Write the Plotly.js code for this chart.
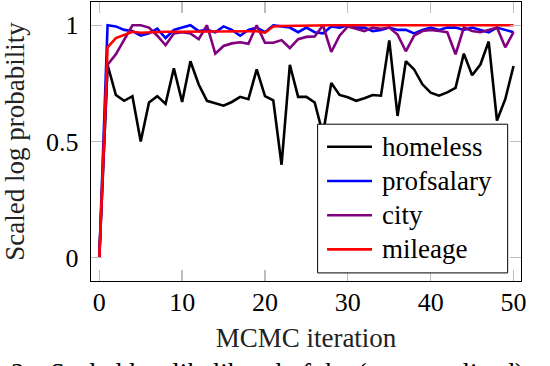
<!DOCTYPE html>
<html>
<head>
<meta charset="utf-8">
<script src="https://cdn.plot.ly/plotly-3.0.1.min.js"></script>
<style>
  body { margin: 0; background: #fff; }
  #chart { width: 550px; height: 366px; }
</style>
</head>
<body>
<div id="chart"></div>
<script>
// MCMC iterations 0..50
const iterations = Array.from({ length: 51 }, (_, i) => i);

const homeless = [0, 0.83, 0.70, 0.675, 0.695, 0.50, 0.668, 0.695, 0.662, 0.815,
  0.67, 0.845, 0.745, 0.675, 0.665, 0.654, 0.67, 0.692, 0.682, 0.81,
  0.695, 0.677, 0.40, 0.83, 0.692, 0.692, 0.668, 0.53, 0.752, 0.70,
  0.69, 0.675, 0.686, 0.70, 0.697, 0.935, 0.61, 0.845, 0.81, 0.746,
  0.71, 0.697, 0.711, 0.731, 0.878, 0.785, 0.831, 0.93, 0.59, 0.682, 0.825];

const profsalary = [0, 1.0, 0.995, 0.98, 0.975, 0.955, 0.965, 0.985, 0.945, 0.98,
  0.99, 1.0, 0.975, 0.98, 0.97, 0.995, 0.98, 0.955, 0.98, 0.99,
  0.97, 1.0, 0.995, 0.99, 0.97, 0.99, 0.97, 0.965, 0.995, 0.99,
  1.0, 0.99, 0.99, 0.975, 0.98, 0.99, 0.98, 0.98, 0.965, 0.98,
  0.99, 0.98, 0.99, 0.99, 0.98, 0.99, 0.98, 0.97, 0.99, 0.98, 0.97];

const city = [0, 0.83, 0.875, 0.935, 1.0, 1.0, 0.99, 0.955, 0.914, 0.965,
  0.97, 0.965, 0.94, 1.0, 0.878, 0.911, 0.922, 0.927, 0.92, 1.0,
  0.925, 0.925, 0.936, 0.902, 0.94, 0.95, 0.952, 1.0, 0.885, 0.955,
  0.995, 0.985, 0.975, 0.99, 0.985, 0.99, 0.96, 0.888, 0.955, 0.975,
  0.98, 0.975, 0.97, 0.875, 0.99, 0.975, 0.97, 0.98, 0.99, 0.905, 0.97];

const mileage = [0, 0.905, 0.945, 0.958, 0.972, 0.968, 0.97, 0.972, 0.972, 0.972,
  0.972, 0.972, 0.972, 0.972, 0.972, 0.972, 0.972, 0.972, 0.972, 0.974,
  0.968, 0.995, 0.997, 0.998, 0.998, 0.998, 0.998, 1.0, 1.0, 1.0,
  1.0, 1.0, 1.0, 1.0, 1.0, 1.0, 1.0, 1.0, 1.0, 1.0,
  1.0, 1.0, 1.0, 1.0, 1.0, 1.0, 1.0, 1.0, 1.0, 1.0, 1.0];

const seriesNames = ['homeless', 'profsalary', 'city', 'mileage'];
const seriesValues = [homeless, profsalary, city, mileage];
const seriesColors = ['#000000', '#0000ff', '#800080', '#ff0000'];

const xTicks = [0, 10, 20, 30, 40, 50];
const yTicks = [0, 0.5, 1];
const yTickText = ['0', '0.5', '1'];

const serif = 'Liberation Serif, Times New Roman, serif';

const traces = seriesValues.map((vals, k) => ({
  type: 'scatter',
  mode: 'lines',
  name: seriesNames[k],
  x: iterations,
  y: vals,
  line: { color: seriesColors[k], width: 2.6 }
}));

const axisCommon = {
  showgrid: false,
  zeroline: false,
  showline: true,
  linecolor: '#000',
  linewidth: 1.3,
  mirror: 'ticks',
  ticks: 'inside',
  ticklen: 11,
  tickwidth: 1.3,
  tickcolor: '#bdbdbd',
  tickfont: { family: serif, size: 26, color: '#000' }
};

// legend box drawn in paper coordinates (pgfplots style: opaque box, long keys)
const legendBox = { x0: 0.527, x1: 0.969, y0: 0.029, y1: 0.562 };
const legendTop = 0.481, legendStep = 0.1226;
const keyX0 = 0.549, keyX1 = 0.6535, textX = 0.672;

const shapes = [{
  type: 'rect', xref: 'paper', yref: 'paper', layer: 'above',
  x0: legendBox.x0, x1: legendBox.x1, y0: legendBox.y0, y1: legendBox.y1,
  fillcolor: '#fff', line: { color: '#000', width: 1 }
}];
const annotations = [];
seriesNames.forEach((name, k) => {
  const yk = legendTop - k * legendStep;
  shapes.push({
    type: 'line', xref: 'paper', yref: 'paper', layer: 'above',
    x0: keyX0, x1: keyX1, y0: yk, y1: yk,
    line: { color: seriesColors[k], width: 2.6 }
  });
  annotations.push({
    xref: 'paper', yref: 'paper', x: textX, y: yk, xanchor: 'left', yanchor: 'middle',
    text: name, showarrow: false, font: { family: serif, size: 27, color: '#000' }
  });
});

// caption line of the source figure, cut by the bottom edge
annotations.push(
  { xref: 'paper', yref: 'paper', x: -0.19, y: -0.27, xanchor: 'left', yanchor: 'top',
    text: '2:', showarrow: false, font: { family: serif, size: 27, color: '#000' } },
  { xref: 'paper', yref: 'paper', x: -0.1, y: -0.27, xanchor: 'left', yanchor: 'top',
    text: 'Scaled log-likelihood of the (unnormalized) posterior', showarrow: false,
    font: { family: serif, size: 27, color: '#000' } }
);

const layout = {
  width: 550,
  height: 366,
  margin: { l: 91, r: 29, t: 2, b: 85 },
  paper_bgcolor: '#fff',
  plot_bgcolor: '#fff',
  showlegend: false,
  xaxis: Object.assign({}, axisCommon, {
    range: [-1, 50.9],
    tickvals: xTicks,
    ticklabelstandoff: -3,
    title: { text: 'MCMC iteration', font: { family: serif, size: 27, color: '#222' }, standoff: 12 }
  }),
  yaxis: Object.assign({}, axisCommon, {
    range: [-0.1, 1.1],
    tickvals: yTicks,
    ticktext: yTickText,
    ticklabelstandoff: 6,
    title: { text: 'Scaled log probability', font: { family: serif, size: 27, color: '#222' }, standoff: 16 }
  }),
  shapes: shapes,
  annotations: annotations
};

Plotly.newPlot('chart', traces, layout, { displayModeBar: false, staticPlot: true });
</script>
</body>
</html>
